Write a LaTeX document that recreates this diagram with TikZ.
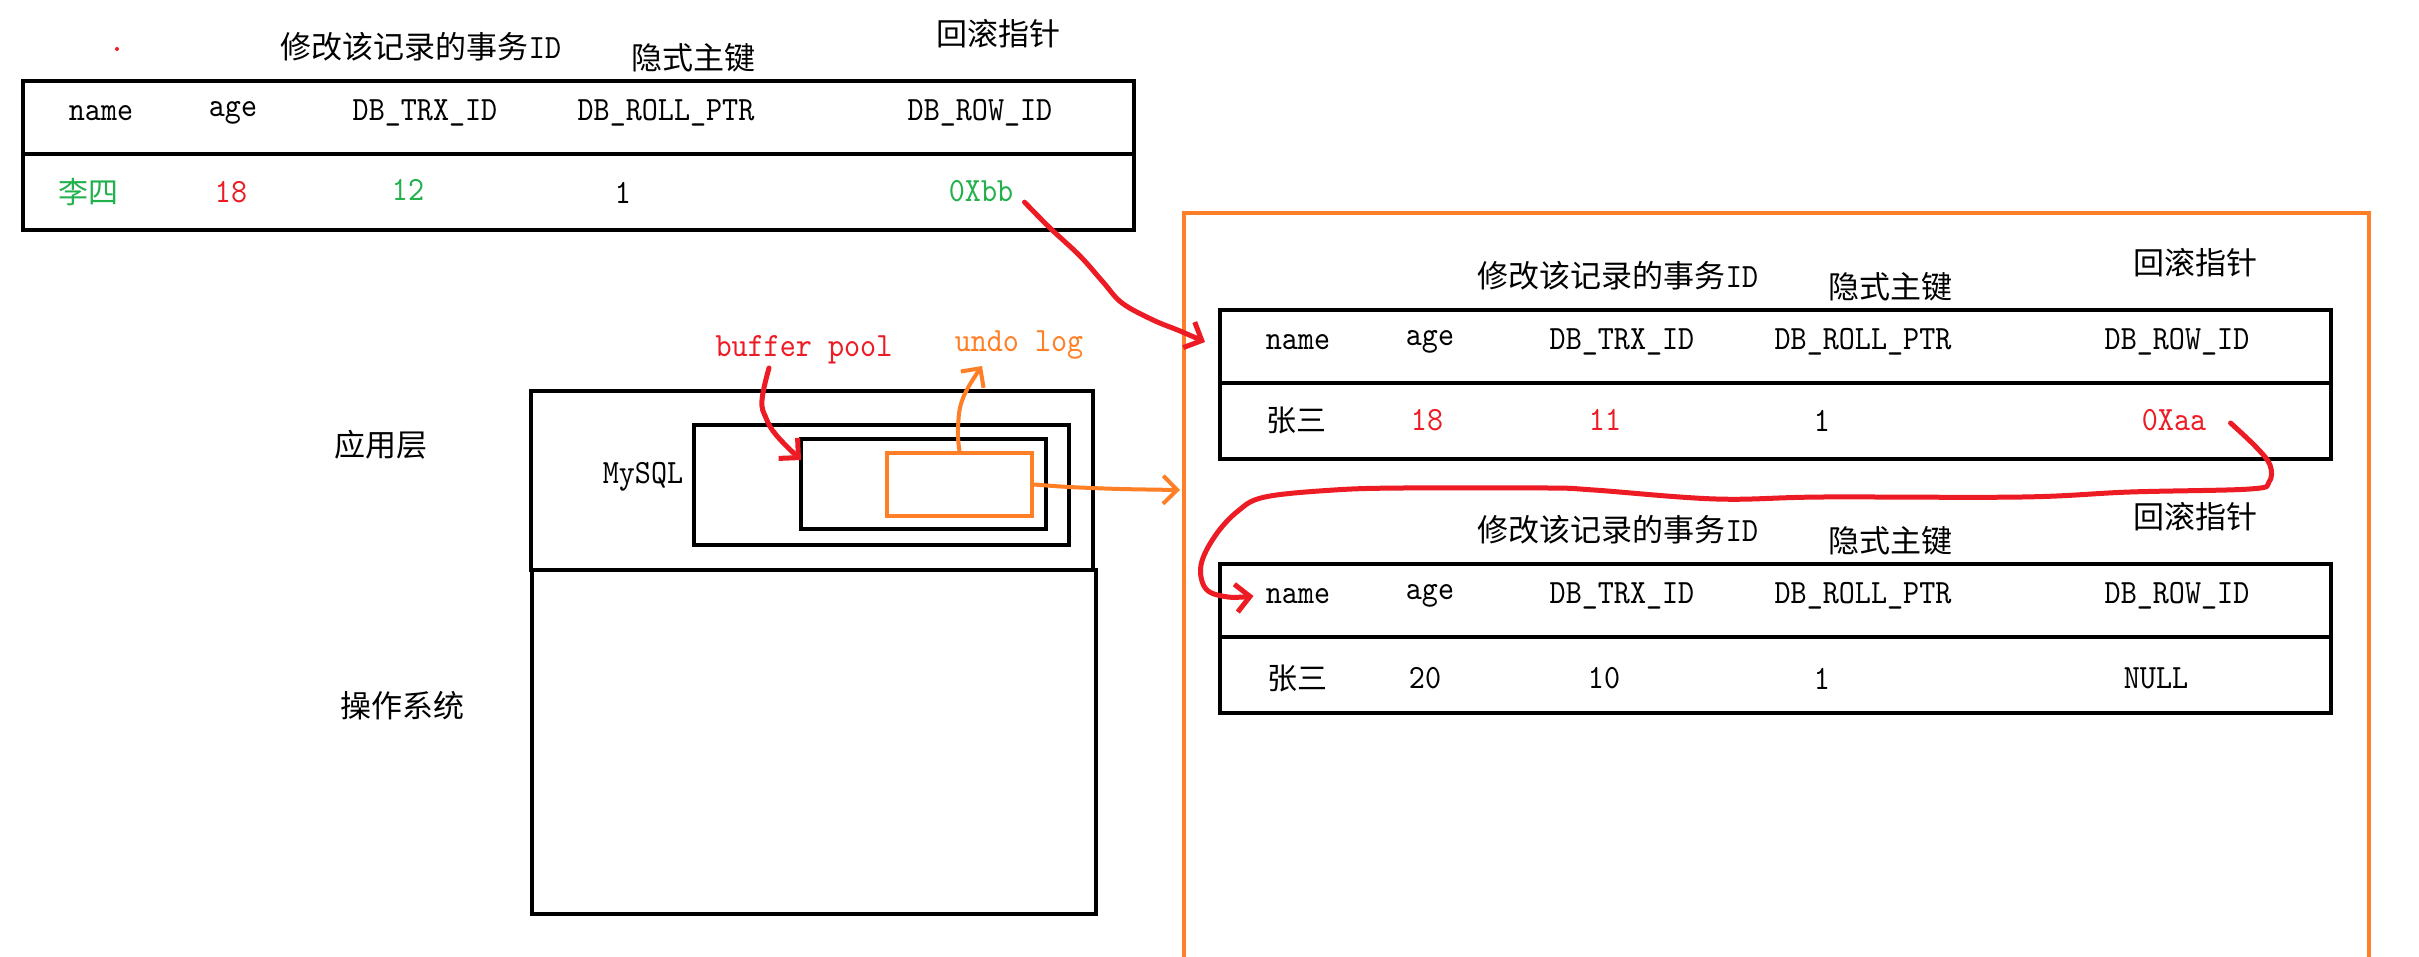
\documentclass[tikz,border=0pt]{standalone}
\usepackage{fontspec}
\newfontfamily\cjk{Noto Sans CJK SC}
\newfontfamily\latf[FakeStretch=0.9]{lmmono10-regular.otf}
\usetikzlibrary{arrows.meta,calc}
\definecolor{pRed}{HTML}{ED1C24}
\definecolor{pGreen}{HTML}{22B14C}
\definecolor{pOrange}{HTML}{FF7F27}
\tikzset{
  tblbox/.style={draw=black, line width=2.2pt, minimum width=555.5pt, minimum height=74.5pt, anchor=north west, inner sep=0pt},
  tblline/.style={draw=black, line width=2.2pt},
  hdr/.style={font=\latf\fontsize{17}{17}\selectfont, inner sep=0pt},
  dat/.style={font=\latf\fontsize{17}{17}\selectfont, inner sep=0pt},
  cjkdat/.style={font=\cjk\fontsize{15}{15}\selectfont, inner sep=0pt},
  lbl/.style={font=\cjk\fontsize{15.5}{16}\selectfont, inner sep=0pt},
  boxk/.style={draw=black, line width=2.2pt, anchor=north west, inner sep=0pt},
  redarrow/.style={draw=pRed, line width=2.5pt, line cap=round, line join=round, -{Straight Barb[length=7pt,width=14pt]}},
  orarrow/.style={draw=pOrange, line width=2pt, line cap=round, line join=round, -{Straight Barb[length=7pt,width=14pt]}},
}
\newcommand\undotable[3]{%
\begin{scope}[shift={(#2,#3)}]
  \node[tblbox] (#1box) at (0,0) {};
  \draw[tblline] (0,75) -- (1111,75);
  \node[hdr] (#1h1) at (80,34) {name};
  \node[hdr] (#1h2) at (212,34) {age};
  \node[hdr] (#1h3) at (404,34) {DB\_TRX\_ID};
  \node[hdr] (#1h4) at (645,34) {DB\_ROLL\_PTR};
  \node[hdr] (#1h5) at (959,34) {DB\_ROW\_ID};
  \node[lbl] (#1l1) at (400,-32) {修改该记录的事务{\latf\fontsize{17}{17}\selectfont ID}};
  \node[lbl] (#1l2) at (672,-21) {隐式主键};
  \node[lbl] (#1l3) at (977,-45) {回滚指针};
\end{scope}}
\begin{document}
\begin{tikzpicture}[x=0.5pt,y=-0.5pt]
\useasboundingbox (0,0) rectangle (2419,957);
\fill[white] (0,0) rectangle (2419,957);

% stray dot
\fill[pRed] (117,49) circle (2);

% table 1
\undotable{t1}{21}{79}
\node[cjkdat, text=pGreen] (t1d1) at (88,192) {李四};
\node[dat, text=pRed] (t1d2) at (231,192) {18};
\node[dat, text=pGreen] (t1d3) at (408,190) {12};
\node[dat] (t1d4) at (623,193) {1};
\node[dat, text=pGreen] (t1d5) at (981,191) {0Xbb};

% orange frame
\node[draw=pOrange, line width=1.8pt, minimum width=592.5pt, minimum height=390pt, anchor=north west, inner sep=0pt] (frame) at (1182,211) {};

% table 2
\undotable{t2}{1218}{308}
\node[cjkdat] (t2d1) at (1296,420) {张三};
\node[dat, text=pRed] (t2d2) at (1427,420) {18};
\node[dat, text=pRed] (t2d3) at (1605,420) {11};
\node[dat] (t2d4) at (1822,421) {1};
\node[dat, text=pRed] (t2d5) at (2174,420) {0Xaa};

% table 3
\undotable{t3}{1218}{562}
\node[cjkdat] (t3d1) at (1297,678) {张三};
\node[dat] (t3d2) at (1425,678) {20};
\node[dat] (t3d3) at (1604,678) {10};
\node[dat] (t3d4) at (1822,679) {1};
\node[dat] (t3d5) at (2156,678) {NULL};

% left stack
\node[boxk, minimum width=281pt, minimum height=89.5pt] (app) at (529,389) {};
\node[boxk, minimum width=282pt, minimum height=172pt] (os) at (530,568) {};
\node[boxk, minimum width=187.5pt, minimum height=60pt] (mysql) at (692,423) {};
\node[boxk, minimum width=122.5pt, minimum height=45pt] (buf) at (799,437) {};
\node[draw=pOrange, line width=2pt, anchor=north west, inner sep=0pt, minimum width=72.5pt, minimum height=31.5pt] (undo) at (885,451) {};

\node[lbl] (appl) at (381,445) {应用层};
\node[lbl] (osl) at (402,706) {操作系统};
\node[hdr] (myl) at (643,477) {MySQL};
\node[hdr, text=pRed] (bp) at (804,350) {buffer pool};
\node[hdr, text=pOrange] (ul) at (1019,345) {undo log};

% arrows in left stack
\draw[redarrow] plot[smooth, tension=0.7] coordinates {($(bp.center)+(-35,18)$) (762,400) (766,418) (777,436) (801,460)};
\draw[orarrow] plot[smooth, tension=0.7] coordinates {(undo.north) (958,428) (963,398) (982,366)};
\coordinate (fin) at ($(frame.north west)+(-2,279)$);
\draw[orarrow] plot[smooth, tension=0.5] coordinates {(undo.east) (1069,487) (1120,489) (fin)};

% red pointer arrows
\coordinate (t2in) at ($(t2box.north west)+(-13,34)$);
\draw[redarrow] plot[smooth, tension=0.6] coordinates {($(t1d5.south east)+(11,0)$) (1050,228) (1080,256) (1103,282) (1122,303) (1153,320) (1180,331) (t2in)};
\coordinate (t3in) at ($(t3h1.west)+(-12,0)$);
\draw[redarrow] plot[smooth, tension=0.6] coordinates {($(t2d5.east)+(24,3)$) (2256,447) (2270,465) (2269,482) (2250,489) (2130,492) (2022,497) (1823,497) (1716,499) (1594,490) (1548,488) (1403,488) (1334,490) (1265,497) (1238,511) (1215,536) (1201,565) (1206,589) (1228,597) (t3in)};
\end{tikzpicture}
\end{document}
